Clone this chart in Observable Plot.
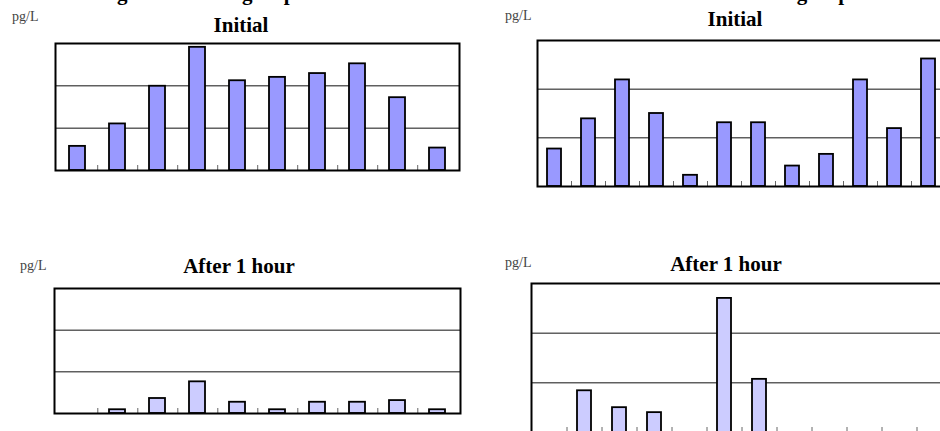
<!DOCTYPE html>
<html>
<head>
<meta charset="utf-8">
<script src="https://cdn.jsdelivr.net/npm/d3@7"></script>
<script src="https://cdn.jsdelivr.net/npm/@observablehq/plot@0.6"></script>
<style>
  html, body { margin: 0; padding: 0; background: #fff; overflow: hidden; }
  #fig { position: relative; width: 940px; height: 431px; overflow: hidden; background: #fff; }
  .abs { position: absolute; white-space: nowrap; }
  .head { font-family: "Liberation Serif", serif; font-weight: bold; font-size: 21px; color: #000; }
  .unit { font-family: "Liberation Serif", serif; font-size: 14px; color: #444; }
  svg { overflow: visible; }
</style>
</head>
<body>
<div id="fig"></div>
<script>
// ---- data (pg/L) ----
const catsLeft = ["1", "2", "3", "4", "5", "6", "7", "8", "9", "10"];
const initialLeft = [0.57, 1.10, 1.99, 2.91, 2.12, 2.20, 2.29, 2.52, 1.72, 0.53];
const after1hLeft = [0, 0.09, 0.36, 0.76, 0.27, 0.09, 0.27, 0.27, 0.31, 0.09];

const catsRight = ["1", "2", "3", "4", "5", "6", "7", "8", "9", "10", "11", "12"];
const initialRight = [0.77, 1.39, 2.19, 1.50, 0.23, 1.31, 1.31, 0.42, 0.66, 2.19, 1.19, 2.62];
const after1hRight = [0, 0.84, 0.50, 0.40, 0, 2.70, 1.07, 0, 0, 0, 0, 0];

const yDomain = [0, 3];
const gridValues = [1, 2];

const groupTitles = ["Changes in treated group", "Control group"];
const panelTitles = ["Initial", "After 1 hour"];
const unitLabel = "pg/L";

const fig = document.getElementById("fig");

function panel(cats, values, fill, box) {
  const m = 2;
  const fw = box.x1 - box.x0, fh = box.y1 - box.y0;
  const step = fw / cats.length;
  const tickLen = 5 * (yDomain[1] - yDomain[0]) / fh;
  const data = cats.map((c, i) => ({cat: c, value: values[i]})).filter(d => d.value > 0);
  const svg = Plot.plot({
    width: fw + 2 * m,
    height: fh + 2 * m,
    marginLeft: m, marginRight: m, marginTop: m, marginBottom: m,
    style: {background: "transparent", overflow: "visible"},
    x: {type: "band", domain: cats, paddingInner: 0.6, paddingOuter: 0.3, axis: null},
    y: {domain: yDomain, axis: null},
    marks: [
      Plot.ruleY(gridValues, {stroke: "#111", strokeWidth: 1}),
      Plot.ruleX(cats.slice(0, -1), {x: d => d, y1: 0, y2: tickLen, dx: step / 2, stroke: "#666", strokeWidth: 1}),
      Plot.barY(data, {x: "cat", y: "value", fill: fill, stroke: "#000", strokeWidth: 1.8}),
      Plot.frame({stroke: "#000", strokeWidth: 2})
    ]
  });
  svg.style.position = "absolute";
  svg.style.left = (box.x0 - m) + "px";
  svg.style.top = (box.y0 - m) + "px";
  fig.appendChild(svg);
}

function label(text, cls, x, baseline, anchor) {
  const d = document.createElement("div");
  d.className = "abs " + cls;
  d.textContent = text;
  d.style.lineHeight = "1";
  fig.appendChild(d);
  const fs = parseFloat(getComputedStyle(d).fontSize);
  const w = d.getBoundingClientRect().width;
  let left = x;
  if (anchor === "middle") left = x - w / 2;
  if (anchor === "end") left = x - w;
  d.style.left = left + "px";
  d.style.top = (baseline - fs * 0.89) + "px";
}

// cut-off group titles at the very top (as in the reference)
label(groupTitles[0], "head", 68, 1.5, "start");
label(groupTitles[1], "head", 850, 1.5, "end");

// panel titles
label(panelTitles[0], "head", 241, 34, "middle");
label(panelTitles[0], "head", 735, 28, "middle");
label(panelTitles[1], "head", 239, 275, "middle");
label(panelTitles[1], "head", 726, 273, "middle");

// unit labels
label(unitLabel, "unit", 12, 22, "start");
label(unitLabel, "unit", 505, 21, "start");
label(unitLabel, "unit", 20, 271, "start");
label(unitLabel, "unit", 505, 268, "start");

panel(catsLeft, initialLeft, "#9999ff", {x0: 55, x1: 459, y0: 43, y1: 170});
panel(catsRight, initialRight, "#9999ff", {x0: 537, x1: 945, y0: 40, y1: 186});
panel(catsLeft, after1hLeft, "#ccccff", {x0: 54, x1: 460, y0: 288, y1: 413});
panel(catsRight, after1hRight, "#ccccff", {x0: 531, x1: 951, y0: 283, y1: 432});
</script>
</body>
</html>
